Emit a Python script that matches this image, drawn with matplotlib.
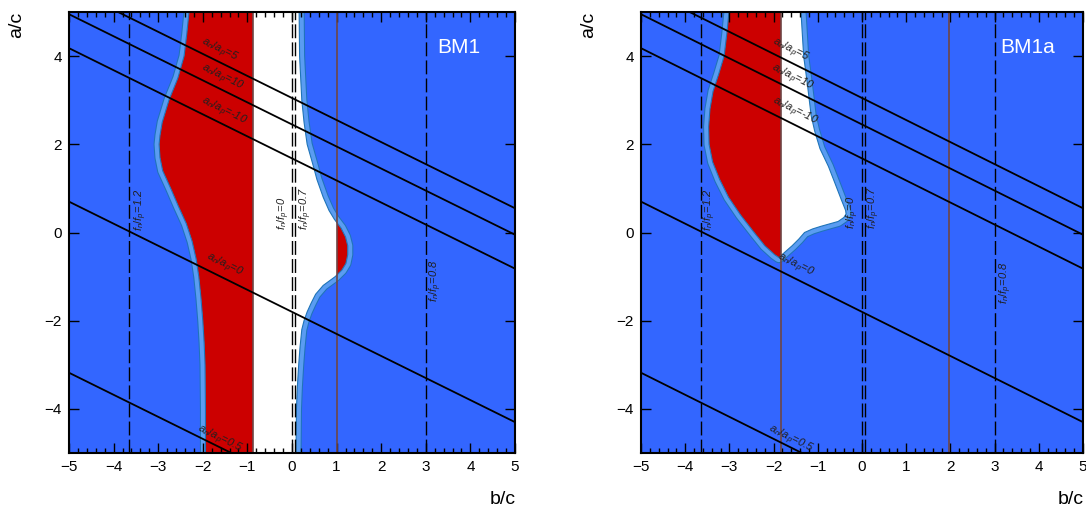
import numpy as np
import matplotlib
matplotlib.use('Agg')
import matplotlib.pyplot as plt
from matplotlib.patches import Polygon, Rectangle
from matplotlib.ticker import MultipleLocator, FixedLocator

plt.rcParams['font.family'] = ['Liberation Sans', 'DejaVu Sans']
plt.rcParams['mathtext.fontset'] = 'custom'
plt.rcParams['mathtext.rm'] = 'Liberation Sans'
plt.rcParams['mathtext.it'] = 'Liberation Sans:italic'

# diagonal a_n/a_p lines: a/c = slope*b/c + intercept
line_slope = -0.5
line_intercepts = [3.05, 2.45, 1.68, -1.8, -5.68]
line_names = ['5', '10', '-10', '0', '0.5']
line_label_x = [-1.62, -1.58, -1.53, -1.52, -1.62]
line_label_y = [4.13, 3.50, 2.74, -0.74, -4.70]

# vertical f_n/f_p lines
f_lines = [-3.65, 0.0, 0.06, 3.0]
f_names = ['1.2', '0', '0.7', '0.8']
bm1_f_label_x = [-3.39, -0.18, 0.31, 3.23]
bm1_f_label_y = [0.52, 0.43, 0.55, -1.09]
bm1a_f_label_x = [-3.45, -0.20, 0.27, 3.26]
bm1a_f_label_y = [0.52, 0.45, 0.57, -1.14]

# BM1 allowed region (left edge top->bottom, right edge bottom->top)
bm1_left_y = [5.5, 5.0, 4.5, 4.0, 3.5, 3.0, 2.5, 2.2, 2.0, 1.7, 1.4, 1.0, 0.6, 0.2, -0.2, -0.6,
              -1.0, -1.5, -2.0, -2.5, -3.0, -4.0, -5.0, -5.5]
bm1_left_x = [-2.28, -2.31, -2.36, -2.42, -2.56, -2.76, -2.91, -2.96, -2.98, -2.96, -2.9, -2.72, -2.55, -2.37, -2.24, -2.15,
              -2.09, -2.04, -2.0, -1.97, -1.95, -1.94, -1.94, -1.94]
bm1_right_y = [-5.5, -5.0, -4.0, -3.5, -3.0, -2.6, -2.2, -2.0, -1.8, -1.6, -1.4, -1.2, -1.0, -0.85, -0.7, -0.5,
               -0.3, -0.1, 0.1, 0.3, 0.5, 0.8, 1.2, 1.5, 2.0, 2.5, 3.0, 4.0, 5.0, 5.5]
bm1_right_x = [0.09, 0.09, 0.10, 0.12, 0.15, 0.18, 0.22, 0.27, 0.34, 0.43, 0.53, 0.7, 0.97, 1.12, 1.21, 1.25,
               1.25, 1.2, 1.1, 0.95, 0.83, 0.7, 0.56, 0.48, 0.34, 0.27, 0.22, 0.17, 0.16, 0.16]
bm1_brown = [-0.88, 1.0]
bm1_red = [(-5, -0.88), (1.0, 5)]

# BM1a allowed region
bm1a_left_y = [5.5, 5.0, 4.5, 4.0, 3.6, 3.2, 2.8, 2.4, 2.0, 1.6, 1.2, 0.8, 0.4, 0.0, -0.3, -0.5, -0.57]
bm1a_left_x = [-2.98, -3.01, -3.06, -3.12, -3.24, -3.37, -3.44, -3.47, -3.46, -3.38, -3.22, -3.02, -2.75, -2.44, -2.2, -1.98, -1.88]
bm1a_right_y = [-0.45, -0.3, -0.15, 0.0, 0.08, 0.14, 0.25, 0.34, 0.42, 0.5, 0.75, 1.14, 1.5, 1.9, 2.3, 2.65,
                3.4, 4.0, 5.0, 5.5]
bm1a_right_x = [-1.75, -1.58, -1.43, -1.3, -1.12, -0.93, -0.54, -0.41, -0.36, -0.37, -0.47, -0.62, -0.76, -0.95, -1.07, -1.15,
                -1.24, -1.32, -1.38, -1.38]
bm1a_brown = [-1.84, 1.97]
bm1a_red = [(-5, -1.84)]

BLUE = '#3366ff'
BAND = '#5a9cf2'
EDGE = '#1f74b8'
RED = '#cc0000'
BROWN = '#6e4646'


def draw_panel(ax, name, lx, ly, rx, ry, red_ranges, brown, flx, fly):
    ax.set_facecolor(BLUE)
    ax.set_xlim(-5, 5)
    ax.set_ylim(-5, 5)
    verts = list(zip(lx, ly)) + list(zip(rx, ry))
    ax.add_patch(Polygon(verts, closed=True, fill=False, ec=EDGE, lw=8, joinstyle='round', zorder=1))
    ax.add_patch(Polygon(verts, closed=True, fill=False, ec=BAND, lw=6.5, joinstyle='round', zorder=1))
    ax.add_patch(Polygon(verts, closed=True, fc='white', ec='none', zorder=1))
    for x0, x1 in red_ranges:
        p = Polygon(verts, closed=True, fc=RED, ec='none', zorder=1)
        ax.add_patch(p)
        p.set_clip_path(Rectangle((x0, -5), x1 - x0, 10, transform=ax.transData))
    ax.add_patch(Polygon(verts, closed=True, fill=False, ec=EDGE, lw=0.8, zorder=1))

    for x in brown:
        ax.axvline(x, color=BROWN, lw=1.2, zorder=2)
    for x in f_lines:
        ax.axvline(x, color='k', lw=1, dashes=(10, 3), zorder=2)
    for c in line_intercepts:
        ax.axline((0, c), slope=line_slope, color='k', lw=1.3, zorder=3)

    ang = np.degrees(np.arctan(line_slope))
    for n, x, y in zip(line_names, line_label_x, line_label_y):
        ax.text(x, y, r'$a_n/a_p$=' + n, fontsize=8, style='italic', color='#202020',
                rotation=ang, transform_rotates_text=True, rotation_mode='anchor',
                ha='center', va='center', zorder=4)
    for n, x, y in zip(f_names, flx, fly):
        ax.text(x, y, r'$f_n/f_p$=' + n, fontsize=8, style='italic', color='#202020',
                rotation=90, ha='center', va='center', zorder=4)

    ax.text(3.75, 4.2, name, color='white', fontsize=15, ha='center', va='center', zorder=4)

    ax.xaxis.set_major_locator(MultipleLocator(1))
    ax.xaxis.set_minor_locator(MultipleLocator(0.2))
    ax.yaxis.set_major_locator(FixedLocator([-4, -2, 0, 2, 4]))
    ax.yaxis.set_minor_locator(FixedLocator([]))
    ax.tick_params(which='both', direction='in', top=True, right=True, labelsize=11, width=1, color='k')
    ax.tick_params(which='major', length=7, pad=5)
    ax.tick_params(which='minor', length=3.5)
    for s in ax.spines.values():
        s.set_linewidth(1.5)
        s.set_zorder(5)


fig = plt.figure(figsize=(10.86, 5.08), dpi=100)
ax1 = fig.add_axes([69 / 1086, 1 - 453 / 508, 446 / 1086, 441 / 508])
ax2 = fig.add_axes([641 / 1086, 1 - 453 / 508, 442 / 1086, 441 / 508])

draw_panel(ax1, 'BM1', bm1_left_x, bm1_left_y, bm1_right_x, bm1_right_y,
           bm1_red, bm1_brown, bm1_f_label_x, bm1_f_label_y)
draw_panel(ax2, 'BM1a', bm1a_left_x, bm1a_left_y, bm1a_right_x, bm1a_right_y,
           bm1a_red, bm1a_brown, bm1a_f_label_x, bm1a_f_label_y)

fig.text(17 / 1086, 1 - 25 / 508, 'a/c', rotation=90, fontsize=14, ha='center', va='center')
fig.text(589 / 1086, 1 - 25 / 508, 'a/c', rotation=90, fontsize=14, ha='center', va='center')
fig.text(516 / 1086, 1 - 499 / 508, 'b/c', fontsize=14, ha='right', va='center')
fig.text(1084 / 1086, 1 - 499 / 508, 'b/c', fontsize=14, ha='right', va='center')

fig.savefig('out.png', dpi=100)
